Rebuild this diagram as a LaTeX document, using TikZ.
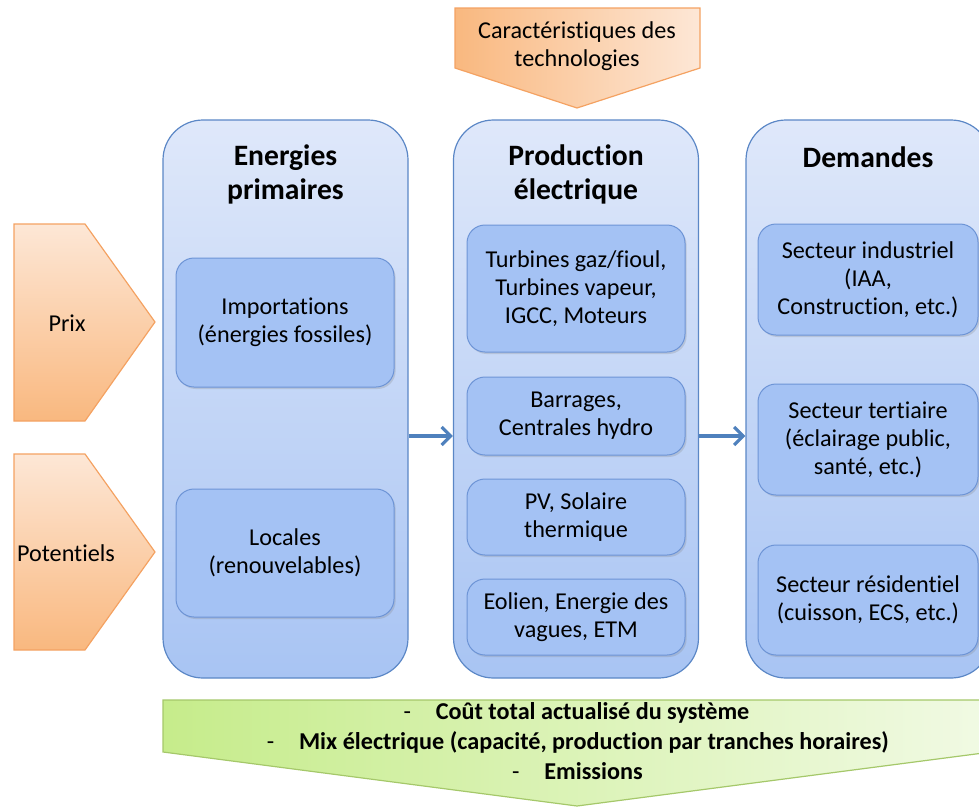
\documentclass[tikz,border=0pt]{standalone}
\usepackage{fontspec}
\setmainfont{Carlito}[Ligatures=NoCommon]
\usetikzlibrary{arrows.meta, positioning, shadows}

\definecolor{coltop}{HTML}{DFE8FA}
\definecolor{colbot}{HTML}{A8C4F3}
\definecolor{colline}{HTML}{5B87C6}
\definecolor{itemfill}{HTML}{A4C2F4}
\definecolor{itemline}{HTML}{6D94D6}
\definecolor{flowblue}{HTML}{4F81BD}
\definecolor{orlight}{HTML}{FDE7D6}
\definecolor{ordark}{HTML}{F9B87F}
\definecolor{orline}{HTML}{F4A262}
\definecolor{grdark}{HTML}{C6EC8B}
\definecolor{grlight}{HTML}{F1FAE4}
\definecolor{grline}{HTML}{A5C86A}

\newcommand\bodyfont{\fontsize{12.1pt}{14pt}\selectfont}
\newcommand\headfont{\fontsize{14.8pt}{17pt}\selectfont\bfseries}

\begin{document}
\begin{tikzpicture}[
    x=0.5pt, y=-0.5pt,
    column/.style={rectangle, rounded corners=20pt, draw=colline, line width=0.6pt, top color=coltop, bottom color=colbot, minimum width=122.5pt, minimum height=279pt, inner sep=0pt},
    item/.style={rectangle, rounded corners=9pt, draw=itemline, line width=0.5pt, fill=itemfill, align=center, font=\bodyfont, inner sep=0pt, drop shadow={opacity=0.25, shadow xshift=0.8pt, shadow yshift=-1pt}},
    head/.style={align=center, font=\headfont, inner sep=0pt},
    label/.style={align=center, font=\bodyfont, inner sep=0pt},
    result/.style={font=\bodyfont\bfseries, inner sep=0pt},
    bullet/.style={font=\bodyfont, inner sep=0pt, anchor=base east},
    input/.style={draw=orline, line width=0.6pt},
    flow/.style={-{Straight Barb[length=4.5pt, width=9pt]}, draw=flowblue, line width=1.6pt}
]

\useasboundingbox (0,0) rectangle (979,809);
\clip (0,0) rectangle (979,809);

% inputs from outside
\path[input, left color=ordark, right color=orlight] (455,8) -- (700,8) -- (700,68) -- (577,108) -- (455,68) -- cycle;
\node[label] (techno) at (577,46) {Caractéristiques des\\technologies};

\path[input, top color=orlight, bottom color=ordark] (14,224) -- (85,224) -- (155,322) -- (85,421) -- (14,421) -- cycle;
\node[label] (prix) at (67,323) {Prix};
\path[input, top color=orlight, bottom color=ordark] (14,454) -- (85,454) -- (155,552) -- (85,650) -- (14,650) -- cycle;
\node[label] (potentiels) at (66,553) {Potentiels};

% the three columns
\node[column] (primaires) at (285.5,399) {};
\node[column] (production) at (576,399) {};
\node[column] (demandes) at (868.5,399) {};

\node[head] (hprim) at (285.5,174) {Energies\\primaires};
\node[head] (hprod) at (576,174) {Production\\électrique};
\node[head] (hdem) at (868,157) {Demandes};

% primary energies
\node[item, minimum width=109pt, minimum height=64.5pt] (import) at (285,322.5) {Importations\\(énergies fossiles)};
\node[item, minimum width=109pt, minimum height=64pt] (locales) at (285,553) {Locales\\(renouvelables)};

% power plants
\node[item, minimum width=109pt, minimum height=63.5pt] (thermique) at (576,288.5) {Turbines gaz/fioul,\\Turbines vapeur,\\IGCC, Moteurs};
\node[item, minimum width=109pt, minimum height=39pt] (hydro) at (576,416) {Barrages,\\Centrales hydro};
\node[item, minimum width=109pt, minimum height=38pt] (solaire) at (576,517) {PV, Solaire\\thermique};
\node[item, minimum width=109pt, minimum height=38pt] (eolien) at (576,617) {Eolien, Energie des\\vagues, ETM};

% demand sectors
\node[item, minimum width=110pt, minimum height=55.5pt] (industrie) at (868,279.5) {Secteur industriel\\(IAA,\\Construction, etc.)};
\node[item, minimum width=110pt, minimum height=55.5pt] (tertiaire) at (868,439.5) {Secteur tertiaire\\(éclairage public,\\santé, etc.)};
\node[item, minimum width=110pt, minimum height=55pt] (residentiel) at (868,600) {Secteur résidentiel\\(cuisson, ECS, etc.)};

\draw[flow] ([yshift=-18.5pt]primaires.east) -- ([yshift=-18.5pt]production.west);
\draw[flow] ([yshift=-18.5pt]production.east) -- ([yshift=-18.5pt]demandes.west);

% outputs
\path[draw=grline, line width=0.6pt, left color=grdark, right color=grlight] (163,700) -- (991,700) -- (991,752) -- (577,806) -- (163,752) -- cycle;
\node[result] (cout) at (592.5,713) {Coût total actualisé du système};
\node[result] (mix) at (594,742) {Mix électrique (capacité, production par tranches horaires)};
\node[result] (emis) at (593.5,771) {Emissions};
\node[bullet] (d1) at ([xshift=-12pt]cout.base west) {-};
\node[bullet] (d2) at ([xshift=-12pt]mix.base west) {-};
\node[bullet] (d3) at ([xshift=-12pt]emis.base west) {-};

\end{tikzpicture}
\end{document}
